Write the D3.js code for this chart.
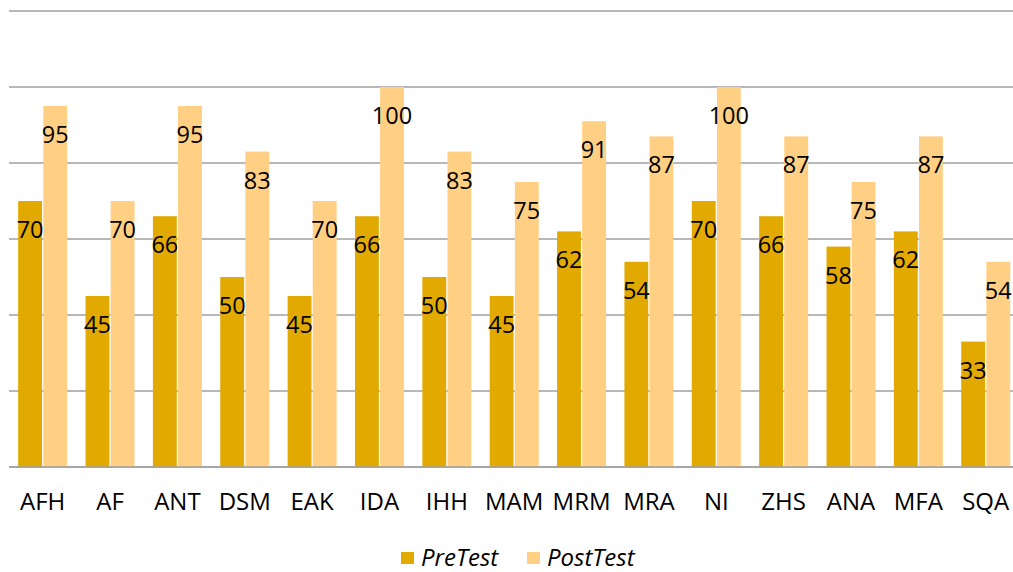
<!DOCTYPE html>
<html>
<head>
<meta charset="utf-8">
<script src="https://cdn.jsdelivr.net/npm/d3@7"></script>
<style>
  body { margin: 0; background: #fff; }
  text { font-family: "Open Sans", "Noto Sans", sans-serif; fill: #000; }
</style>
</head>
<body>
<svg width="1013" height="572"></svg>
<script>
const categories = ["AFH", "AF", "ANT", "DSM", "EAK", "IDA", "IHH", "MAM", "MRM", "MRA", "NI", "ZHS", "ANA", "MFA", "SQA"];
const preTest = [70, 45, 66, 50, 45, 66, 50, 45, 62, 54, 70, 66, 58, 62, 33];
const postTest = [95, 70, 95, 83, 70, 100, 83, 75, 91, 87, 100, 87, 75, 87, 54];
const seriesNames = ["PreTest", "PostTest"];
const colors = ["#E2A900", "#FFD084"];
const yTicks = [0, 20, 40, 60, 80, 100, 120];

const svg = d3.select("svg");

const x0 = d3.scaleBand()
    .domain(categories)
    .range([9, 9 + 15 * 67.36])
    .paddingInner(0.2726)
    .paddingOuter(0.1363);

const x1 = d3.scaleBand()
    .domain(seriesNames)
    .range([0, x0.bandwidth()])
    .paddingInner(0.05);

const y = d3.scaleLinear().domain([0, 120]).range([467, 11]);

// gridlines
svg.append("g")
    .selectAll("line")
    .data(yTicks)
    .join("line")
    .attr("x1", 9)
    .attr("x2", 1013)
    .attr("y1", d => y(d))
    .attr("y2", d => y(d))
    .attr("stroke", "#a0a0a0")
    .attr("stroke-width", 1.5);

const rows = categories.map((c, i) => ({
  cat: c,
  vals: [
    { key: "PreTest", value: preTest[i], color: colors[0] },
    { key: "PostTest", value: postTest[i], color: colors[1] }
  ]
}));

const groups = svg.append("g")
    .selectAll("g")
    .data(rows)
    .join("g")
    .attr("transform", d => `translate(${x0(d.cat)},0)`);

groups.selectAll("rect")
    .data(d => d.vals)
    .join("rect")
    .attr("x", d => x1(d.key))
    .attr("width", x1.bandwidth())
    .attr("y", d => y(d.value))
    .attr("height", d => y(0) - y(d.value))
    .attr("fill", d => d.color);

groups.selectAll("text")
    .data(d => d.vals)
    .join("text")
    .attr("x", d => x1(d.key) + x1.bandwidth() / 2)
    .attr("y", d => y(d.value) + 37)
    .attr("text-anchor", "middle")
    .attr("font-size", 23.5)
    .text(d => d.value);

// baseline
svg.append("line")
    .attr("x1", 9).attr("x2", 1013)
    .attr("y1", y(0)).attr("y2", y(0))
    .attr("stroke", "#a0a0a0")
    .attr("stroke-width", 1.5);

// category labels
svg.append("g")
    .selectAll("text")
    .data(categories)
    .join("text")
    .attr("x", d => x0(d) + x0.bandwidth() / 2)
    .attr("y", 510)
    .attr("text-anchor", "middle")
    .attr("font-size", 24)
    .text(d => d);

// legend
const legendX = [401, 527];
const legend = svg.append("g")
    .selectAll("g")
    .data(seriesNames)
    .join("g")
    .attr("transform", (d, i) => `translate(${legendX[i]},552)`);

legend.append("rect")
    .attr("width", 13)
    .attr("height", 12)
    .attr("fill", (d, i) => colors[i]);

legend.append("text")
    .attr("x", 20)
    .attr("y", 14)
    .attr("font-size", 24)
    .attr("font-style", "italic")
    .text(d => d);
</script>
</body>
</html>
